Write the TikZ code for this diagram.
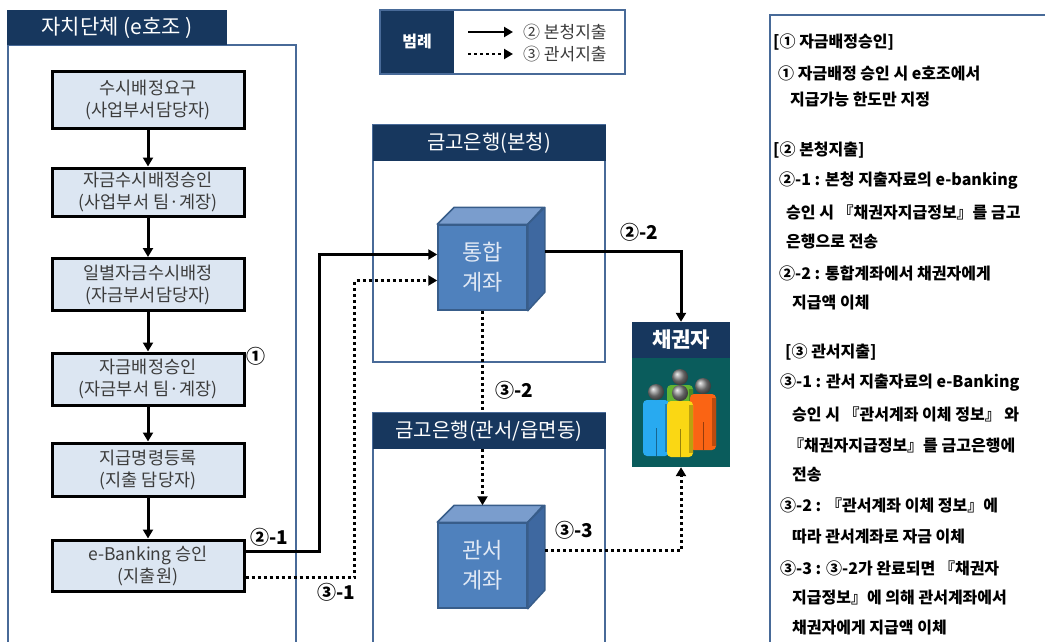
\documentclass[tikz,border=0pt]{standalone}
\usepackage{fontspec}
\setmainfont{Noto Sans CJK KR}
\usepackage{tikz}
\usetikzlibrary{arrows.meta,calc}
\definecolor{navy}{RGB}{23,55,94}
\definecolor{panelblue}{RGB}{72,106,152}
\definecolor{boxfill}{RGB}{220,230,242}
\definecolor{boxtext}{RGB}{60,60,60}
\definecolor{cubefront}{RGB}{79,129,189}
\definecolor{cubetop}{RGB}{122,157,205}
\definecolor{cubeside}{RGB}{62,104,160}
\definecolor{cubeedge}{RGB}{56,93,138}
\definecolor{cubetext}{RGB}{225,233,245}
\definecolor{credteal}{RGB}{10,92,92}
\definecolor{figblue}{RGB}{40,170,240}
\definecolor{figyellow}{RGB}{250,215,20}
\definecolor{figorange}{RGB}{250,100,20}
\definecolor{figgreen}{RGB}{100,180,50}
\tikzset{
stepbox/.style={draw=black,line width=3pt,fill=boxfill,minimum width=192pt,minimum height=50pt,
  align=center,text=boxtext,inner sep=1pt,font=\fontsize{17.5}{22}\selectfont},
tab/.style={fill=navy,text=white,inner sep=0pt},
panel/.style={draw=panelblue,line width=2.5pt},
cube/.style={draw=cubeedge,line width=1.5pt,fill=cubefront,minimum width=89pt,minimum height=85pt,
  align=center,text=cubetext,inner sep=0pt,font=\fontsize{22}{30}\selectfont},
flow/.style={line width=3pt,-{Triangle[length=9pt,width=10pt]}},
dots/.style={flow,dash pattern=on 3pt off 3pt},
}
\tikzstyle{tag} = [inner sep=0pt, font=\fontsize{19}{19}\selectfont\bfseries]

\begin{document}
\begin{tikzpicture}[
x=1pt,y=-1pt,
note/.style={anchor=west,inner sep=0pt,font=\fontsize{16}{18}\selectfont\bfseries},
legtext/.style={anchor=west,inner sep=0pt,text=boxtext,font=\fontsize{17}{18}\selectfont},
]
\useasboundingbox (0,0) rectangle (1045,642);
\fill[white] (0,0) rectangle (1045,642);

\draw[panel] (8,45) rectangle (296,670);
\node[tab,minimum width=220pt,minimum height=35pt,font=\fontsize{21}{21}\selectfont] (cityhdr) at (117,27.5) {자치단체 (e호조 )};

\node[stepbox,minimum height=56pt] (request) at (148,100) {수시배정요구\\(사업부서담당자)};
\node[stepbox,minimum height=48pt] (deptok) at (148,192) {자금수시배정승인\\(사업부서 팀·계장)};
\node[stepbox,minimum height=52pt] (daily) at (148,284.5) {일별자금수시배정\\(자금부서담당자)};
\node[stepbox,minimum height=52pt] (fundok) at (148,379) {자금배정승인\\(자금부서 팀·계장)};
\node[stepbox,minimum height=53pt] (order) at (148,469.5) {지급명령등록\\(지출 담당자)};
\node[stepbox,minimum height=51pt] (ebank) at (148,565.5) {e-Banking 승인\\(지출원)};
\foreach \a/\b in {request/deptok,deptok/daily,daily/fundok,fundok/order,order/ebank}
  \draw[flow] (\a) -- (\b);

\draw[panel] (373,125) rectangle (605,362);
\draw[panel] (373,413) rectangle (605,670);
\draw[panel] (770,15) rectangle (1070,670);

\node[cube] (tonghap) at (482.5,267.5) {통합\\계좌};
\node[cube] (gwanseo) at (482.5,565.5) {관서\\계좌};
\foreach \c in {tonghap,gwanseo}{
  \filldraw[fill=cubetop,draw=cubeedge,line width=1.5pt,line join=round]
    (\c.north west) -- ++(17,-17) -- ++(89,0) -- (\c.north east) -- cycle;
  \filldraw[fill=cubeside,draw=cubeedge,line width=1.5pt,line join=round]
    (\c.north east) -- ++(17,-17) -- ++(0,85) -- (\c.south east) -- cycle;
}

\node[tab,minimum width=98pt,minimum height=36pt,font=\fontsize{21}{21}\selectfont\bfseries] (creditor) at (681,340) {채권자};
\node[fill=credteal,minimum width=98pt,minimum height=109pt,inner sep=0pt] (crowd) at (681,412.5) {};
\foreach \x/\y/\c in {680/385/figgreen,703/394/figorange,656/400/figblue,680/401/figyellow}{
  \fill[\c,rounded corners=4pt] (\x-13,\y) rectangle (\x+13,\y+56);
  \fill[\c!75!black] (\x+8.5,\y+4) rectangle (\x+13,\y+52);
  \draw[\c!60!black,line width=1pt] (\x,\y+28) -- (\x,\y+56);
  \shade[ball color=gray!90] (\x,\y-8) circle (8);
}

\draw[flow] ([yshift=14pt]ebank.east) -- ++(74,0) |- ([yshift=13pt]tonghap.west);
\draw[dots] ([yshift=-12pt]ebank.east) -- ++(109,0) |- ([yshift=-13pt]tonghap.west);
\draw[flow] ([xshift=17pt,yshift=16pt]tonghap.east) -| (creditor.north);
\draw[dots] (tonghap.south) -- ([yshift=17pt]gwanseo.north);
\draw[dots] ([xshift=17pt,yshift=15pt]gwanseo.east) -| (crowd.south);

\node[tab,minimum width=233pt,minimum height=36pt,font=\fontsize{20}{20}\selectfont] (bonhdr) at (489,143) {금고은행(본청)};
\node[tab,minimum width=233pt,minimum height=36pt,font=\fontsize{20}{20}\selectfont] (gwanhdr) at (489,431) {금고은행(관서/읍면동)};

\node[tag] (tag1) at (256,356) {①};
\node[tag] (tag21) at (269,537) {②-1};
\node[tag] (tag31) at (336,592) {③-1};
\node[tag] (tag22) at (639,232) {②-2};
\node[tag] (tag32) at (514,390) {③-2};
\node[tag] (tag33) at (574,530) {③-3};

\node[draw=panelblue,line width=2pt,minimum width=245pt,minimum height=64pt,inner sep=0pt] (legend) at (502.5,42) {};
\node[tab,minimum width=73pt,minimum height=62pt,font=\fontsize{16}{16}\selectfont\bfseries] (legkey) at (417,42) {범례};
\node[legtext] (leg2) at (523,32) {② 본청지출};
\node[legtext] (leg3) at (523,54) {③ 관서지출};
\coordinate (ls2) at (468,32);
\coordinate (ls3) at (468,54);
\draw[flow,line width=2.5pt] (ls2) -- ([xshift=-10pt]leg2.west);
\draw[dots,line width=2.5pt] (ls3) -- ([xshift=-10pt]leg3.west);

\foreach \x/\y/\t [count=\i] in {
  773/42/{[① 자금배정승인]},
  778/73/{① 자금배정 승인 시 e호조에서},
  790/100/{지급가능 한도만 지정},
  773/150/{[② 본청지출]},
  779/181/{②-1 : 본청 지출자료의 e-banking},
  786/212/{승인 시 『채권자지급정보』를 금고},
  786/242/{은행으로 전송},
  779/273/{②-2 : 통합계좌에서 채권자에게},
  792/303/{지급액 이체},
  785/352/{[③ 관서지출]},
  780/383/{③-1 : 관서 지출자료의 e-Banking},
  792/414/{승인 시 『관서계좌 이체 정보』 와},
  788/445/{『채권자지급정보』를 금고은행에},
  792/475/{전송},
  780/505/{③-2 : 『관서계좌 이체 정보』에},
  792/537/{따라 관서계좌로 자금 이체},
  780/568/{③-3 : ③-2가 완료되면 『채권자},
  792/598/{지급정보』에 의해 관서계좌에서},
  792/628/{채권자에게 지급액 이체}}
  \node[note] (note\i) at (\x,\y) {\t};
\end{tikzpicture}
\end{document}
